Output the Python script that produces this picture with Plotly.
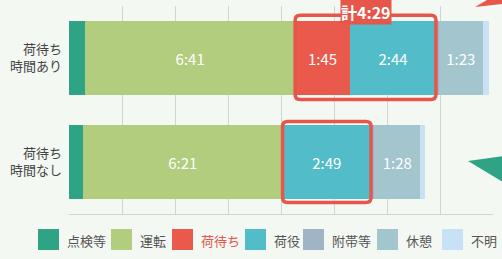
import plotly.graph_objects as go

# ---- data (minutes) ----
categories = ["荷待ち時間あり", "荷待ち時間なし"]
tick_labels = ["荷待ち<br>時間あり", "荷待ち<br>時間なし"]
series_names = ["点検等", "運転", "荷待ち", "荷役", "附帯等", "休憩", "不明"]
kenten = [31, 27]
unten = [401, 381]
nimachi = [105, 0]
niyaku = [164, 169]
futai = [6, 6]
kyukei = [83, 88]
fumei = [13, 10]
labeled = ["運転", "荷待ち", "荷役", "休憩"]

colors = ["#2fa484", "#b1cd7d", "#ea5a4c", "#52bcc8", "#9fb5c5", "#a2c5ce", "#c9e1f5"]
series_vals = [kenten, unten, nimachi, niyaku, futai, kyukei, fumei]

def fmt(m):
    return f"{m // 60}:{m % 60:02d}"

BG = "#f4f8f3"
RED = "#e6564a"
FONT = "Noto Sans CJK JP, Noto Sans, sans-serif"

fig = go.Figure()
ypos = [0, 1]
for name, vals, col in zip(series_names, series_vals, colors):
    texts = [fmt(v) if (name in labeled and v > 0) else "" for v in vals]
    fig.add_trace(go.Bar(
        y=ypos, x=vals, orientation="h", name=name,
        marker=dict(color=col, line=dict(width=0)),
        width=0.72, text=texts, textposition="inside",
        insidetextanchor="middle", textangle=0,
        textfont=dict(color="white", size=15, family=FONT),
        showlegend=False, hoverinfo="skip",
    ))

# ---- highlight boxes ----
XMAX = 810
W_PLOT, H_PLOT = 424, 208
rx = 5 * XMAX / W_PLOT
ry = 5 * 2.0 / H_PLOT

def rrect(x0, x1, y0, y1):
    return (f"M {x0+rx},{y0} L {x1-rx},{y0} Q {x1},{y0} {x1},{y0+ry} "
            f"L {x1},{y1-ry} Q {x1},{y1} {x1-rx},{y1} L {x0+rx},{y1} "
            f"Q {x0},{y1} {x0},{y1-ry} L {x0},{y0+ry} Q {x0},{y0} {x0+rx},{y0} Z")

shapes = []
b1x0 = kenten[0] + unten[0]
b1x1 = b1x0 + nimachi[0] + niyaku[0]
shapes.append(dict(type="path", xref="x", yref="y", path=rrect(b1x0, b1x1, -0.41, 0.40),
                   line=dict(color=RED, width=3.5)))
b2x0 = kenten[1] + unten[1] + nimachi[1]
b2x1 = b2x0 + niyaku[1]
shapes.append(dict(type="path", xref="x", yref="y", path=rrect(b2x0, b2x1, 1 - 0.39, 1 + 0.39),
                   line=dict(color=RED, width=3.5)))

annotations = [dict(
    x=(b1x0 + b1x1) / 2, y=-0.41, xref="x", yref="y",
    text="<b>計" + fmt(nimachi[0] + niyaku[0]) + "</b>",
    showarrow=False, yanchor="middle", yshift=3,
    font=dict(color="white", size=16, family=FONT),
    bgcolor=RED, borderpad=0,
)]

# ---- custom legend ----
def px_x(p):
    return (p - 69) / W_PLOT

def px_y(p):
    return (214 - p) / H_PLOT

leg_sq_left = [38, 111, 172, 245, 303, 377, 442]
for name, col, sx in zip(series_names, colors, leg_sq_left):
    shapes.append(dict(type="rect", xref="paper", yref="paper",
                       x0=px_x(sx), x1=px_x(sx + 21), y0=px_y(250), y1=px_y(229),
                       fillcolor=col, line=dict(width=0)))
    annotations.append(dict(
        x=px_x(sx + 27), y=px_y(240), xref="paper", yref="paper",
        text=name, showarrow=False, xanchor="left", yanchor="middle",
        font=dict(size=13, family=FONT, color=RED if name == "荷待ち" else "#555555"),
    ))

# ---- decorative arrow fragments ----
shapes.append(dict(type="path", xref="paper", yref="paper",
                   path=f"M {px_x(468)},{px_y(161)} L {px_x(503)},{px_y(156)} L {px_x(503)},{px_y(182)} Z",
                   fillcolor="#2fa484", line=dict(width=0)))
shapes.append(dict(type="path", xref="paper", yref="paper",
                   path=f"M {px_x(475)},{px_y(7)} L {px_x(487)},{px_y(0)} L {px_x(503)},{px_y(0)} L {px_x(503)},{px_y(4)} Z",
                   fillcolor=RED, line=dict(width=0)))

fig.update_layout(
    width=502, height=259,
    margin=dict(l=69, r=9, t=6, b=45, autoexpand=False),
    barmode="stack", bargap=0.28,
    paper_bgcolor=BG, plot_bgcolor=BG,
    showlegend=False,
    shapes=shapes, annotations=annotations,
    xaxis=dict(range=[0, XMAX], tick0=0, dtick=XMAX / 8, showticklabels=False,
               showgrid=True, gridcolor="#d2d4d1", gridwidth=1,
               zeroline=False, showline=True, linecolor="#d2d4d1", linewidth=1,
               ticks="", mirror=False, automargin=False),
    yaxis=dict(range=[1.5, -0.5], tickvals=ypos, ticktext=tick_labels,
               showgrid=False, zeroline=False, showline=False, ticks="",
               ticklabelstandoff=6, automargin=False,
               tickfont=dict(size=13, color="#444444", family=FONT)),
    font=dict(family=FONT),
)

fig.write_html(
    "out.html",
    config={"displayModeBar": False},
    post_script="document.body.style.margin='0';document.body.style.background='" + BG + "';",
)
